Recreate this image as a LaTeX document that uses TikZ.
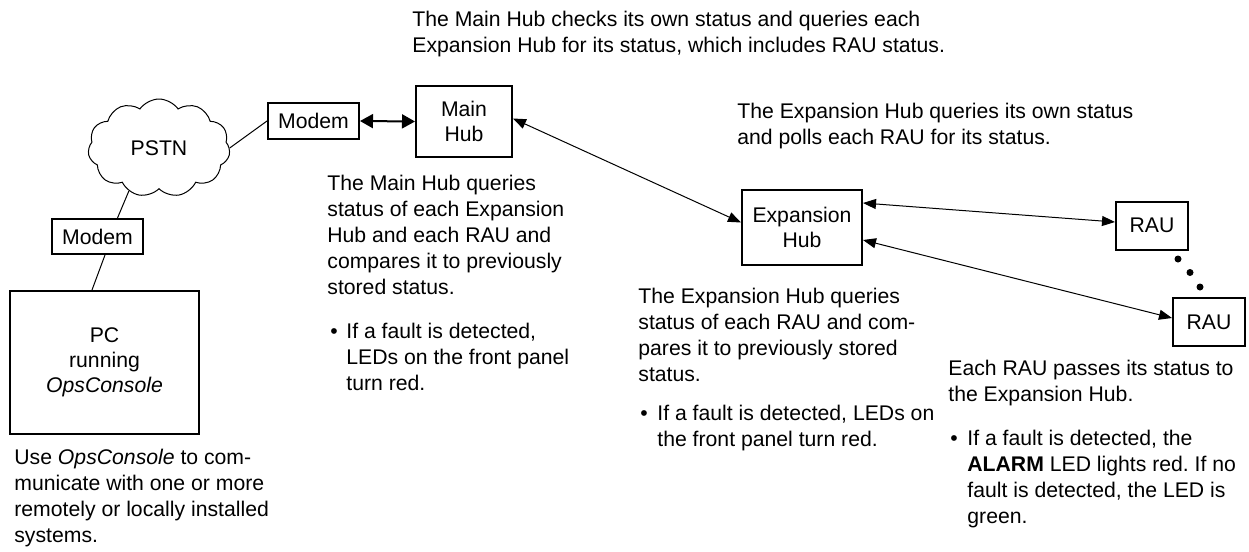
\documentclass[tikz,border=0pt]{standalone}
\usepackage{fontspec}
\setmainfont{Liberation Sans}
\frenchspacing
\usetikzlibrary{shapes.symbols, arrows.meta, positioning}

\begin{document}
\begin{tikzpicture}[x=0.5pt, y=-0.5pt,
    box/.style={rectangle, draw, line width=1pt, align=center, inner sep=0pt, font=\fontsize{10.6}{12.5}\selectfont},
    note/.style={anchor=base west, align=left, inner sep=0pt, font=\fontsize{10.6}{13}\selectfont},
    link/.style={line width=0.5pt},
    both/.style={line width=0.5pt, {Triangle[length=6.5pt,width=5pt]}-{Triangle[length=6.5pt,width=5pt]}},
    bothbold/.style={line width=1pt, {Triangle[length=6.5pt,width=7pt]}-{Triangle[length=6.5pt,width=7pt]}}
  ]
  \useasboundingbox (0,0) rectangle (1249,552);

  % network side
  \node[cloud, draw, cloud puffs=11, cloud puff arc=110, aspect=1.45, line width=0.5pt,
        minimum width=71pt, minimum height=49pt, inner sep=0pt,
        font=\fontsize{10.6}{12}\selectfont] (pstn) at (159,148) {PSTN};
  \node[box, minimum width=45.5pt, minimum height=18pt] (modemA) at (313.5,121) {Modem};
  \node[box, minimum width=45.5pt, minimum height=17.5pt] (modemB) at (97.5,236.5) {Modem};
  \node[box, minimum width=94.5pt, minimum height=71.5pt] (pc) at (104.5,362.5) {PC\\running\\\textit{OpsConsole}};

  % hubs and remote units
  \node[box, minimum width=48pt, minimum height=35.5pt] (mainhub) at (464,121.5) {Main\\Hub};
  \node[box, minimum width=60pt, minimum height=37.5pt] (exphub) at (802,227.5) {Expansion\\Hub};
  \node[box, minimum width=36pt, minimum height=24pt] (rauA) at (1152,225.5) {RAU};
  \node[box, minimum width=36pt, minimum height=24pt] (rauB) at (1209,322) {RAU};
  \foreach \p in {(1178,259), (1190,272.5), (1200,287)}
    \fill \p circle (1.75pt);

  % connectors
  \draw[link] (pstn.east) -- (modemA.west);
  \draw[link] (pstn.-125) -- ([xshift=10pt]modemB.north);
  \draw[link] ([xshift=3.75pt]modemB.south) -- ([xshift=-6.25pt]pc.north);
  \draw[bothbold] (modemA.east) -- (mainhub.west);
  \draw[both] ([yshift=1.5pt]mainhub.east) -- ([yshift=2.5pt]exphub.west);
  \draw[both] ([yshift=12.25pt]exphub.east) -- ([yshift=1.75pt]rauA.west);
  \draw[both] ([yshift=-6.25pt]exphub.east) -- ([yshift=2pt]rauB.west);

  % descriptions (placed at the baseline of their last line)
  \node[note] (topnote) at (412,52) {The Main Hub checks its own status and queries each\\Expansion Hub for its status, which includes RAU status.};
  \node[note] (expnote) at (737,144) {The Expansion Hub queries its own status\\and polls each RAU for its status.};
  \node[note] (mainnote) at (327,294) {The Main Hub queries\\status of each Expansion\\Hub and each RAU and\\compares it to previously\\stored status.};
  \node[note] (mainbul) at (330,338) {\textbullet};
  \node[note] (mainbultext) at (346,390) {If a fault is detected,\\LEDs on the front panel\\turn red.};
  \node[note] (expdesc) at (638,381) {The Expansion Hub queries\\status of each RAU and com-\\pares it to previously stored\\status.};
  \node[note] (expbul) at (640,420) {\textbullet};
  \node[note] (expbultext) at (657,446) {If a fault is detected, LEDs on\\the front panel turn red.};
  \node[note] (raunote) at (948,401) {Each RAU passes its status to\\the Expansion Hub.};
  \node[note] (raubul) at (950,445) {\textbullet};
  \node[note] (raubultext) at (967,523) {If a fault is detected, the\\\textbf{ALARM} LED lights red. If no\\fault is detected, the LED is\\green.};
  \node[note] (pcnote) at (14,542) {Use \textit{OpsConsole} to com-\\municate with one or more\\remotely or locally installed\\systems.};
\end{tikzpicture}
\end{document}
